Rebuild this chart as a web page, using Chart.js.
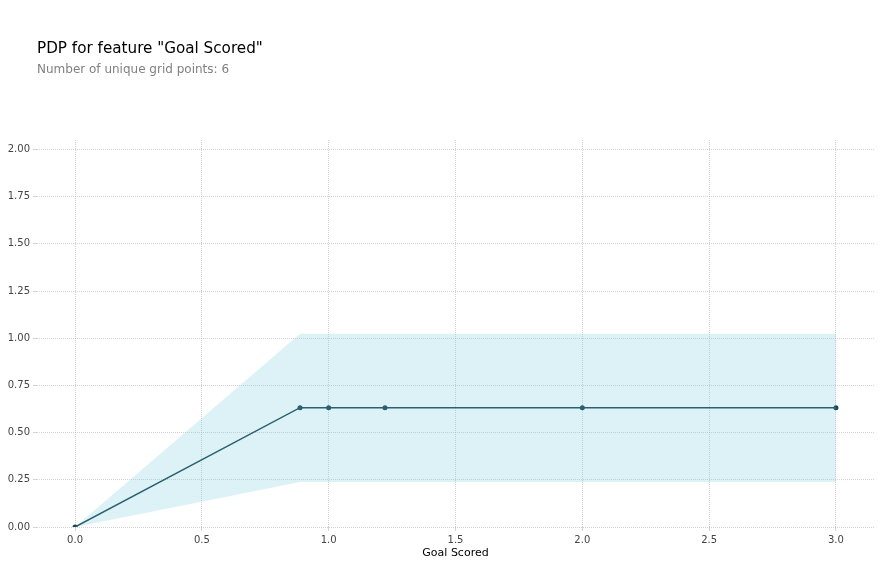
<!DOCTYPE html>
<html>
<head>
<meta charset="utf-8">
<script src="https://cdn.jsdelivr.net/npm/chart.js@4.4.0/dist/chart.umd.min.js"></script>
<style>
  html, body { margin: 0; padding: 0; background: #fff; }
  #wrap { position: relative; width: 888px; height: 565px; }
  #title { position: absolute; left: 37px; top: 39px; font-family: "DejaVu Sans", sans-serif; font-size: 15.2px; color: #000; white-space: nowrap; }
  #subtitle { position: absolute; left: 37px; top: 62px; font-family: "DejaVu Sans", sans-serif; font-size: 12px; color: #808080; white-space: nowrap; }
  canvas { position: absolute; left: 0; top: 0; }
</style>
</head>
<body>
<div id="wrap">
  <canvas id="c" width="888" height="565"></canvas>
  <div id="title">PDP for feature "Goal Scored"</div>
  <div id="subtitle">Number of unique grid points: 6</div>
</div>
<script>
const gridPoints = [0, 0.887, 1.0, 1.222, 2.0, 3.0];
const pdpValues = [0, 0.632, 0.632, 0.632, 0.632, 0.632];
const upperValues = [0, 1.024, 1.024, 1.024, 1.024, 1.024];
const lowerValues = [0, 0.239, 0.239, 0.239, 0.239, 0.239];
const xAxisTitle = "Goal Scored";

const toXY = (ys) => gridPoints.map((x, i) => ({ x: x, y: ys[i] }));
const lineColor = '#1A4452';
const gridColor = 'rgba(175,175,175,0.55)';

new Chart(document.getElementById('c'), {
  type: 'line',
  data: {
    datasets: [
      { data: toXY(upperValues), borderWidth: 0, pointRadius: 0, fill: '+1', backgroundColor: 'rgba(102,194,215,0.22)', borderColor: 'rgba(0,0,0,0)' },
      { data: toXY(lowerValues), borderWidth: 0, pointRadius: 0, fill: false, borderColor: 'rgba(0,0,0,0)' },
      { data: toXY(pdpValues), borderWidth: 1.5, borderColor: lineColor, pointRadius: 2.5, pointBackgroundColor: lineColor, pointBorderColor: lineColor, pointBorderWidth: 0, fill: false }
    ]
  },
  options: {
    responsive: false,
    animation: false,
    layout: { padding: { top: 140, right: 14, left: 0, bottom: 0 } },
    plugins: { legend: { display: false }, tooltip: { enabled: false }, title: { display: false } },
    scales: {
      x: {
        type: 'linear', min: -0.15, max: 3.15,
        afterFit: (s) => { s.height = 38; },
        ticks: { stepSize: 0.5, includeBounds: false, color: '#444', font: { family: 'DejaVu Sans', size: 10 }, padding: 3, callback: (v) => v.toFixed(1) },
        grid: { color: gridColor, lineWidth: 1, tickLength: 4, drawOnChartArea: true },
        border: { display: false, dash: [1, 1] },
        title: { display: true, text: xAxisTitle, color: '#000', font: { family: 'DejaVu Sans', size: 11 }, padding: { top: 0, bottom: 5 } }
      },
      y: {
        type: 'linear', min: 0, max: 2.05,
        afterFit: (s) => { s.width = 37; },
        ticks: { stepSize: 0.25, includeBounds: false, color: '#444', font: { family: 'DejaVu Sans', size: 10 }, padding: 3, callback: (v) => v.toFixed(2) },
        grid: { color: gridColor, lineWidth: 1, tickLength: 4 },
        border: { display: false, dash: [1, 1] }
      }
    }
  }
});
</script>
</body>
</html>
